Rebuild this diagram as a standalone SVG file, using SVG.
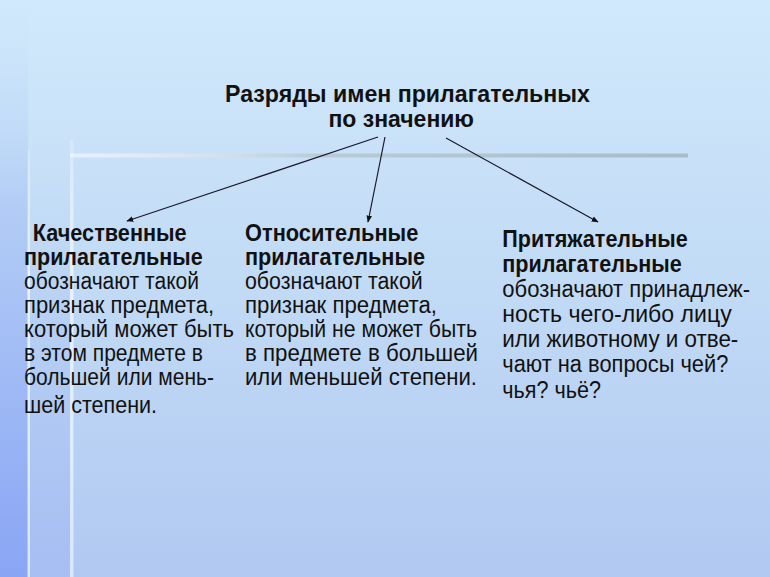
<svg xmlns="http://www.w3.org/2000/svg" width="770" height="577" viewBox="0 0 770 577">
<defs>
<linearGradient id="bg" x1="0" y1="0" x2="0" y2="1">
<stop offset="0" stop-color="#d0e9fb"/>
<stop offset="0.45" stop-color="#c3dcf6"/>
<stop offset="1" stop-color="#b1c9f1"/>
</linearGradient>
<linearGradient id="strip" x1="0" y1="0" x2="0" y2="1">
<stop offset="0" stop-color="#cde6fb" stop-opacity="0"/>
<stop offset="0.35" stop-color="#b3cdf6"/>
<stop offset="1" stop-color="#8aa5f4"/>
</linearGradient>
<linearGradient id="band" x1="0" y1="0" x2="0" y2="1">
<stop offset="0" stop-color="#c4dcf7" stop-opacity="0"/>
<stop offset="0.4" stop-color="#b6cff4"/>
<stop offset="1" stop-color="#a6bef2"/>
</linearGradient>
<linearGradient id="hline" x1="0" y1="0" x2="1" y2="0">
<stop offset="0" stop-color="#ffffff" stop-opacity="0.5"/>
<stop offset="0.4" stop-color="#b9ccd6"/>
<stop offset="1" stop-color="#a6bcc6"/>
</linearGradient>
<linearGradient id="vline" x1="0" y1="0" x2="0" y2="1">
<stop offset="0" stop-color="#ffffff" stop-opacity="0.2"/>
<stop offset="0.3" stop-color="#eaf4fd" stop-opacity="0.9"/>
<stop offset="1" stop-color="#dcebfb" stop-opacity="0.9"/>
</linearGradient>
<marker id="ah" viewBox="0 0 10 10" refX="9" refY="5" markerWidth="7" markerHeight="7" markerUnits="userSpaceOnUse" orient="auto">
<path d="M0,1 L10,5 L0,9 Z" fill="#111"/>
</marker>
</defs>
<style>
.t{font-family:"Liberation Sans",Arial,sans-serif;fill:#111;font-size:23.5px}
.h{font-weight:bold}
.ti{font-weight:bold}
.c{stroke:#1a1a2a;stroke-width:1.2;fill:none;marker-end:url(#ah)}
</style>
<rect width="770" height="577" fill="url(#bg)"/>
<rect x="0" y="0" width="28" height="577" fill="url(#strip)"/>
<rect x="30" y="150" width="41" height="427" fill="url(#band)"/>
<rect x="27.5" y="150" width="2.5" height="427" fill="url(#vline)"/>
<rect x="70" y="140" width="3.5" height="437" fill="url(#vline)"/>
<rect x="70" y="153.5" width="618" height="4" fill="url(#hline)"/>

<g id="title">
<text class="t ti" x="225" y="101.5" textLength="365" lengthAdjust="spacingAndGlyphs">Разряды имен прилагательных</text>
<text class="t ti" x="328.5" y="126.5" textLength="145.5" lengthAdjust="spacingAndGlyphs">по значению</text>
</g>

<g id="connectors">
<line class="c" x1="378" y1="137" x2="127" y2="221"/>
<line class="c" x1="385" y1="137" x2="368" y2="222"/>
<line class="c" x1="446" y1="138" x2="598" y2="222"/>
</g>

<g id="qualitative">
<text class="t h" x="32.7" y="241" textLength="154" lengthAdjust="spacingAndGlyphs">Качественные</text>
<text class="t h" x="24" y="265" textLength="178.7" lengthAdjust="spacingAndGlyphs">прилагательные</text>
<text class="t" x="24" y="289" textLength="175" lengthAdjust="spacingAndGlyphs">обозначают такой</text>
<text class="t" x="24" y="312.5" textLength="190" lengthAdjust="spacingAndGlyphs">признак предмета,</text>
<text class="t" x="24" y="337" textLength="210" lengthAdjust="spacingAndGlyphs">который может быть</text>
<text class="t" x="24" y="361" textLength="179" lengthAdjust="spacingAndGlyphs">в этом предмете в</text>
<text class="t" x="24" y="385" textLength="190" lengthAdjust="spacingAndGlyphs">большей или мень-</text>
<text class="t" x="24" y="413" textLength="133" lengthAdjust="spacingAndGlyphs">шей степени.</text>
</g>

<g id="relative">
<text class="t h" x="245" y="241" textLength="173.3" lengthAdjust="spacingAndGlyphs">Относительные</text>
<text class="t h" x="245" y="265" textLength="180" lengthAdjust="spacingAndGlyphs">прилагательные</text>
<text class="t" x="245" y="289" textLength="177.7" lengthAdjust="spacingAndGlyphs">обозначают такой</text>
<text class="t" x="245" y="312.5" textLength="192" lengthAdjust="spacingAndGlyphs">признак предмета,</text>
<text class="t" x="245" y="337" textLength="232" lengthAdjust="spacingAndGlyphs">который не может быть</text>
<text class="t" x="245" y="361" textLength="233" lengthAdjust="spacingAndGlyphs">в предмете в большей</text>
<text class="t" x="245" y="385" textLength="232" lengthAdjust="spacingAndGlyphs">или меньшей степени.</text>
</g>

<g id="possessive">
<text class="t h" x="502.3" y="246.7" textLength="185.4" lengthAdjust="spacingAndGlyphs">Притяжательные</text>
<text class="t h" x="502.3" y="271.7" textLength="179.4" lengthAdjust="spacingAndGlyphs">прилагательные</text>
<text class="t" x="502.3" y="296.7" textLength="247.7" lengthAdjust="spacingAndGlyphs">обозначают принадлеж-</text>
<text class="t" x="502.3" y="321.7" textLength="229.4" lengthAdjust="spacingAndGlyphs">ность чего-либо лицу</text>
<text class="t" x="502.3" y="346.7" textLength="236" lengthAdjust="spacingAndGlyphs">или животному и отве-</text>
<text class="t" x="502.3" y="371.7" textLength="226" lengthAdjust="spacingAndGlyphs">чают на вопросы чей?</text>
<text class="t" x="502.3" y="398" textLength="98.7" lengthAdjust="spacingAndGlyphs">чья? чьё?</text>
</g>
</svg>
